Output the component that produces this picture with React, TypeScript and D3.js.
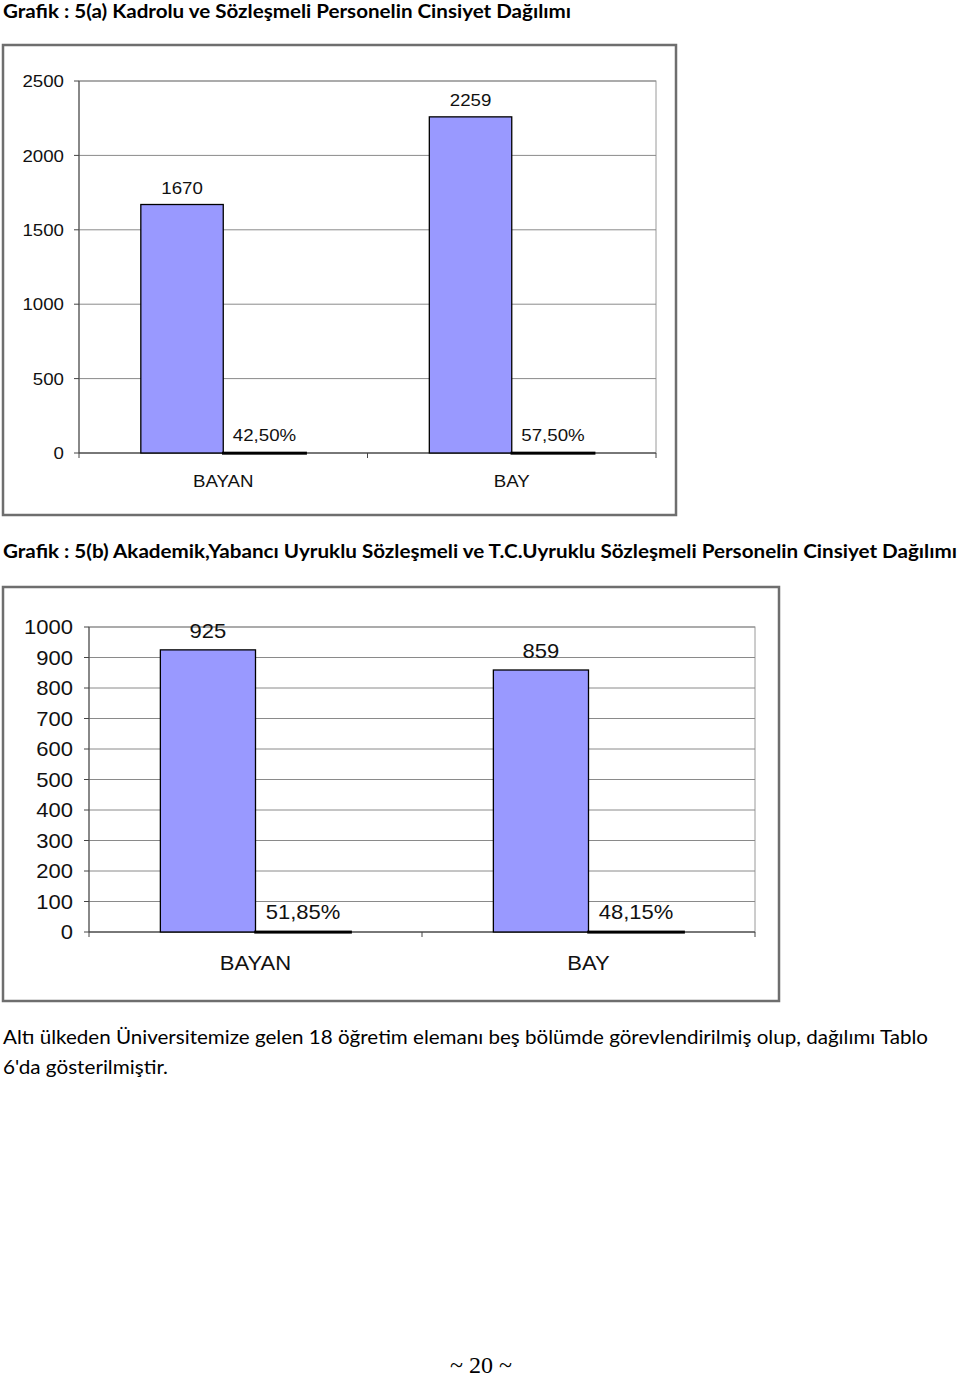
import React from "react";
import * as d3 from "d3";

const categories = ["BAYAN", "BAY"];
const seriesKeys = ["count", "share"];

const chartACounts = [1670, 2259];
const chartAShares = [42.5, 57.5];
const chartATicks = [0, 500, 1000, 1500, 2000, 2500];

const chartBCounts = [925, 859];
const chartBShares = [51.85, 48.15];
const chartBTicks = [0, 100, 200, 300, 400, 500, 600, 700, 800, 900, 1000];

const titleA = "Grafik : 5(a) Kadrolu ve Sözleşmeli Personelin Cinsiyet Dağılımı";
const titleB =
  "Grafik : 5(b) Akademik,Yabancı Uyruklu Sözleşmeli ve T.C.Uyruklu Sözleşmeli Personelin Cinsiyet Dağılımı";
const paraLine1 =
  "Altı ülkeden Üniversitemize gelen 18 öğretim elemanı beş bölümde görevlendirilmiş olup, dağılımı Tablo";
const paraLine2 = "6'da gösterilmiştir.";
const pageNumber = "~ 20 ~";

const fmtShare = (v: number) => d3.format(".2f")(v).replace(".", ",") + "%";

type ChartProps = {
  frame: { x: number; y: number; w: number; h: number };
  plot: { x0: number; x1: number; y0: number; y1: number };
  counts: number[];
  shares: number[];
  ticks: number[];
  fontSize: number;
  stretch: number;
  tickLabelGap: number;
  valueOffset: number;
  shareOffset: number;
  catOffset: number;
};

function SText(props: {
  x: number;
  y: number;
  anchor: "start" | "middle" | "end";
  size: number;
  stretch: number;
  dy?: string;
  children: React.ReactNode;
}) {
  const { x, y, anchor, size, stretch, dy, children } = props;
  return (
    <g transform={`translate(${x},${y}) scale(${stretch},1)`}>
      <text
        x={0}
        y={0}
        dy={dy}
        textAnchor={anchor}
        fontFamily="'Liberation Sans', Arial, sans-serif"
        fontSize={size}
        fill="#111"
      >
        {children}
      </text>
    </g>
  );
}

function Chart(p: ChartProps) {
  const { frame, plot, counts, shares, ticks, fontSize, stretch } = p;
  const y = d3
    .scaleLinear()
    .domain([0, d3.max(ticks) as number])
    .range([plot.y1, plot.y0]);
  const x = d3
    .scaleBand<string>()
    .domain(categories)
    .range([plot.x0, plot.x1])
    .paddingInner(0.4286)
    .paddingOuter(0.2143);
  const xs = d3.scaleBand<string>().domain(seriesKeys).range([0, x.bandwidth()]).padding(0);
  const step = x.step();
  const boundaries = d3.range(categories.length + 1).map((i) => plot.x0 + i * step);
  return (
    <g>
      <rect
        x={frame.x}
        y={frame.y}
        width={frame.w}
        height={frame.h}
        fill="white"
        stroke="#6e6e6e"
        strokeWidth={2.5}
      />
      <rect
        x={plot.x0}
        y={plot.y0}
        width={plot.x1 - plot.x0}
        height={plot.y1 - plot.y0}
        fill="white"
        stroke="#9a9a9a"
        strokeWidth={1}
      />
      {ticks.map((t) => (
        <g key={t}>
          <line x1={plot.x0} x2={plot.x1} y1={y(t)} y2={y(t)} stroke="#8a8a8a" strokeWidth={1} />
          <line x1={plot.x0 - 5} x2={plot.x0} y1={y(t)} y2={y(t)} stroke="#444" strokeWidth={1} />
          <SText
            x={plot.x0 - p.tickLabelGap}
            y={y(t)}
            dy="0.36em"
            anchor="end"
            size={fontSize}
            stretch={stretch}
          >
            {t}
          </SText>
        </g>
      ))}
      <line x1={plot.x0} x2={plot.x0} y1={plot.y0} y2={plot.y1} stroke="#444" strokeWidth={1} />
      <line x1={plot.x0} x2={plot.x1} y1={plot.y1} y2={plot.y1} stroke="#444" strokeWidth={1} />
      {boundaries.map((bx, i) => (
        <line key={i} x1={bx} x2={bx} y1={plot.y1} y2={plot.y1 + 5} stroke="#444" strokeWidth={1} />
      ))}
      {categories.map((c, i) => {
        const gx = x(c) as number;
        const bx = gx + (xs("count") as number);
        const sx = gx + (xs("share") as number);
        const bw = xs.bandwidth();
        const top = y(counts[i]);
        const stop = y(shares[i] / 100);
        return (
          <g key={c}>
            <rect
              x={bx}
              y={top}
              width={bw}
              height={plot.y1 - top}
              fill="#9999FF"
              stroke="#000"
              strokeWidth={1.3}
            />
            <rect
              x={sx}
              y={stop}
              width={bw}
              height={Math.max(plot.y1 - stop, 0.5)}
              fill="#000"
              stroke="#000"
              strokeWidth={2.5}
            />
            <SText x={bx + bw / 2} y={top - p.valueOffset} anchor="middle" size={fontSize} stretch={stretch}>
              {counts[i]}
            </SText>
            <SText x={sx + bw / 2} y={stop - p.shareOffset} anchor="middle" size={fontSize} stretch={stretch}>
              {fmtShare(shares[i])}
            </SText>
            <SText
              x={gx + x.bandwidth() / 2}
              y={plot.y1 + p.catOffset}
              anchor="middle"
              size={fontSize}
              stretch={stretch}
            >
              {c}
            </SText>
          </g>
        );
      })}
    </g>
  );
}

export default function App() {
  const titleFont = "Lato, 'Open Sans', sans-serif";
  return (
    <svg
      width={960}
      height={1378}
      style={{ position: "absolute", left: 0, top: 0, background: "white" }}
    >
      <rect x={0} y={0} width={960} height={1378} fill="white" />
      <text
        x={3}
        y={18}
        fontFamily={titleFont}
        fontWeight="bold"
        fontSize={19}
        textLength={568}
        lengthAdjust="spacingAndGlyphs"
        fill="#000"
      >
        {titleA}
      </text>
      <Chart
        frame={{ x: 3, y: 45, w: 673, h: 470 }}
        plot={{ x0: 79, x1: 656, y0: 81, y1: 453 }}
        counts={chartACounts}
        shares={chartAShares}
        ticks={chartATicks}
        fontSize={17}
        stretch={1.1}
        tickLabelGap={15}
        valueOffset={11}
        shareOffset={12}
        catOffset={34}
      />
      <text
        x={3}
        y={558}
        fontFamily={titleFont}
        fontWeight="bold"
        fontSize={19}
        textLength={954}
        lengthAdjust="spacingAndGlyphs"
        fill="#000"
      >
        {titleB}
      </text>
      <Chart
        frame={{ x: 3, y: 587, w: 776, h: 414 }}
        plot={{ x0: 89, x1: 755, y0: 627, y1: 932 }}
        counts={chartBCounts}
        shares={chartBShares}
        ticks={chartBTicks}
        fontSize={20}
        stretch={1.1}
        tickLabelGap={16}
        valueOffset={12}
        shareOffset={13}
        catOffset={38}
      />
      <text
        x={3}
        y={1044}
        fontFamily={titleFont}
        fontSize={20}
        textLength={925}
        lengthAdjust="spacingAndGlyphs"
        fill="#000"
      >
        {paraLine1}
      </text>
      <text
        x={3}
        y={1074}
        fontFamily={titleFont}
        fontSize={20}
        textLength={165}
        lengthAdjust="spacingAndGlyphs"
        fill="#000"
      >
        {paraLine2}
      </text>
      <text
        x={481}
        y={1373}
        textAnchor="middle"
        fontFamily="'Liberation Serif', 'DejaVu Serif', serif"
        fontSize={24}
        fill="#000"
      >
        {pageNumber}
      </text>
    </svg>
  );
}
